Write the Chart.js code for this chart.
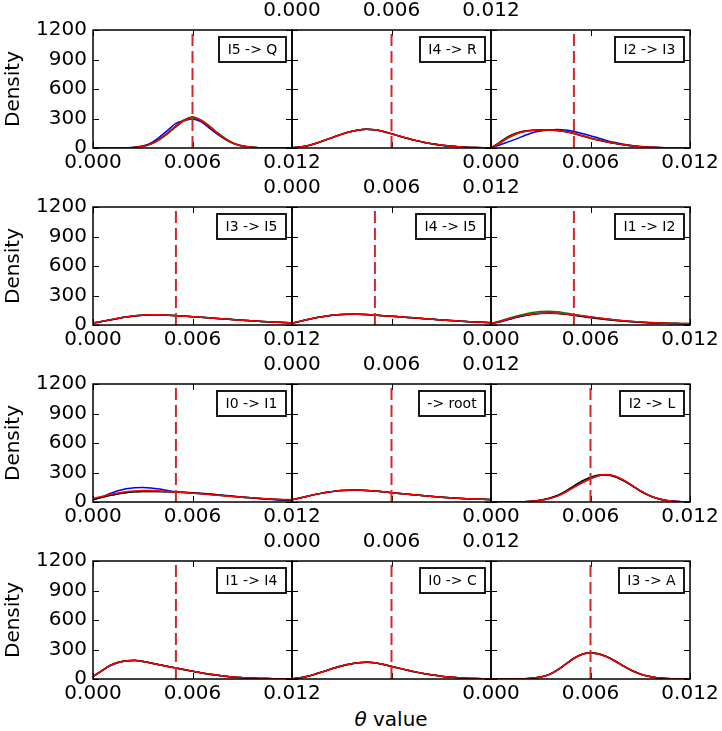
<!DOCTYPE html>
<html><head><meta charset="utf-8">
<script src="https://cdn.jsdelivr.net/npm/chart.js@4/dist/chart.umd.min.js"></script>
<style>
html,body{margin:0;padding:0;background:#fff;overflow:hidden;}
#wrap{position:relative;width:722px;height:731px;overflow:hidden;}
#wrap canvas{position:absolute;}
#xtitle{position:absolute;left:291px;width:200px;top:707px;line-height:22px;text-align:center;font:20px 'DejaVu Sans',sans-serif;color:#000;}
</style></head><body>
<div id="wrap"><div id="xtitle"><i>θ</i> value</div></div>
<script>
// ---- data ----
const xs = [0,0.0005,0.001,0.0015,0.002,0.0025,0.003,0.0035,0.004,0.0045,0.005,0.0055,0.006,0.0065,0.007,0.0075,0.008,0.0085,0.009,0.0095,0.01,0.0105,0.011,0.0115,0.012];
const xTicks = [0, 0.006, 0.012];
const yTicks = [0, 300, 600, 900, 1200];
const panelLabels = ['I5 -> Q','I4 -> R','I2 -> I3','I3 -> I5','I4 -> I5','I1 -> I2','I0 -> I1','-> root','I2 -> L','I1 -> I4','I0 -> C','I3 -> A'];
const trueTheta = [0.006,0.006,0.005,0.005,0.005,0.005,0.005,0.006,0.006,0.005,0.006,0.006];

const I5Q_blue  = [0,0,0,0,2,7,20,52,110,180,250,278,296,268,205,140,85,44,20,8,3,1,0,0,0];
const I5Q_green = [0,0,0,0,2,6,15,40,84,145,215,275,305,285,228,158,96,50,22,9,3,1,0,0,0];
const I5Q_black = [0,0,0,0,2,6,17,44,90,152,225,285,315,280,215,146,88,45,19,8,3,1,0,0,0];
const I5Q_red   = [0,0,0,0,2,6,16,42,88,150,222,282,312,282,220,150,90,46,20,8,3,1,0,0,0];

const I4R_blue  = [3,11,26,51,81,111,141,166,184,190,184,167,144,120,97,75,57,42,30,20,13,8,5,3,2];
const I4R_green = [3,10,24,49,79,110,140,165,184,191,186,169,146,121,97,75,56,41,29,20,13,8,5,3,2];
const I4R_black = [3,10,25,50,80,111,141,166,184,190,185,168,145,120,96,74,56,41,29,20,13,8,5,3,2];
const I4R_red   = [3,10,25,50,80,110,140,165,183,190,185,168,145,120,97,75,57,42,30,20,13,8,5,3,2];

const I2I3_blue  = [0,30,60,90,125,155,172,182,187,182,168,148,125,100,75,55,38,25,16,10,6,3,2,1,0];
const I2I3_green = [0,45,98,140,165,177,182,183,178,167,150,128,104,83,64,48,34,23,15,9,5,3,2,1,0];
const I2I3_black = [0,55,112,150,172,181,185,184,178,165,147,123,98,78,60,45,32,21,13,8,5,3,2,1,0];
const I2I3_red   = [0,50,105,145,168,178,183,183,177,165,148,125,100,80,62,47,33,22,14,9,5,3,2,1,0];

const I3I5_blue  = [19,34,51,67,81,92,100,104,104,101,96,91,85,79,72,66,60,54,48,43,38,33,29,25,22];
const I3I5_green = [20,35,52,68,82,93,100,103,104,100,95,90,85,79,73,66,60,54,48,43,38,33,29,26,23];
const I3I5_black = [20,35,51,67,81,92,99,103,103,100,95,90,85,79,73,67,61,55,49,43,38,33,29,25,22];
const I3I5_red   = [20,35,52,68,82,93,100,104,104,100,95,90,85,79,73,66,60,54,48,43,38,33,29,25,22];

const I4I5_blue  = [18,37,57,75,89,100,107,110,110,106,101,95,89,83,77,71,64,58,52,46,41,36,31,27,23];
const I4I5_green = [19,38,58,76,90,101,108,111,110,106,100,95,89,83,76,70,64,58,52,46,41,36,32,28,24];
const I4I5_black = [18,38,58,76,90,101,107,110,109,105,100,95,89,83,77,70,64,58,52,46,41,36,31,27,23];
const I4I5_red   = [18,38,58,76,90,101,108,111,110,106,101,95,89,83,77,70,64,58,52,46,41,36,31,27,23];

const I1I2_blue  = [14,30,52,75,95,110,119,122,120,113,103,92,82,72,62,52,43,35,29,24,20,17,15,13,12];
const I1I2_green = [16,38,64,90,110,128,138,140,135,122,107,93,80,68,58,49,41,35,30,26,23,20,18,16,15];
const I1I2_black = [15,34,56,78,96,110,118,120,117,109,98,86,74,63,53,45,38,32,27,23,20,17,15,13,12];
const I1I2_red   = [15,35,58,80,98,112,120,122,120,113,104,93,81,70,60,51,43,36,30,26,22,19,17,15,14];

const I0I1_blue  = [20,50,85,115,135,146,148,143,132,117,103,98,95,90,83,75,67,58,50,42,35,28,22,18,15];
const I0I1_green = [28,48,68,85,97,104,107,108,107,104,101,97,92,85,78,70,63,56,49,43,37,32,27,23,20];
const I0I1_black = [25,45,65,82,95,103,106,107,106,104,101,97,92,86,79,71,63,56,49,42,36,31,26,22,19];
const I0I1_red   = [35,55,75,92,105,113,117,117,113,108,102,96,90,83,76,69,62,55,49,43,38,33,29,26,24];

const root_blue  = [22,41,61,79,95,107,116,120,121,118,112,104,95,87,79,71,63,56,49,43,38,34,30,27,25];
const root_green = [23,42,62,80,96,108,117,121,121,117,111,103,95,87,79,71,63,56,50,44,39,34,30,27,25];
const root_black = [22,42,62,80,96,108,116,120,120,117,111,104,95,87,79,71,63,56,49,43,38,33,30,27,24];
const root_red   = [22,42,62,80,96,108,117,121,121,118,112,104,95,87,79,71,63,56,49,43,38,34,30,27,25];

const I2L_blue  = [0,0,0,1,3,8,18,35,62,102,152,198,238,268,277,260,220,168,114,70,38,18,8,3,1];
const I2L_green = [0,0,0,1,3,8,18,36,62,103,155,200,240,270,278,260,220,170,116,71,39,18,8,3,1];
const I2L_black = [0,0,0,1,3,8,19,38,66,110,165,215,252,275,275,255,215,165,112,68,37,17,8,3,1];
const I2L_red   = [0,0,0,1,3,8,18,35,60,100,150,195,235,270,280,262,222,170,115,70,38,18,8,3,1];

const I1I4_blue  = [24,78,132,166,184,188,179,163,146,129,112,96,80,64,50,38,28,20,14,9,6,4,3,2,1];
const I1I4_green = [26,82,137,170,186,189,178,161,144,127,111,95,79,63,49,37,27,19,13,9,6,4,3,2,1];
const I1I4_black = [25,79,133,167,185,190,180,163,145,127,111,95,79,63,49,37,27,19,13,9,6,4,3,2,1];
const I1I4_red   = [25,80,135,168,185,188,178,162,145,128,112,96,80,64,50,38,28,20,14,9,6,4,3,2,1];

const I0C_blue  = [2,12,31,56,83,111,134,152,165,171,165,149,129,108,88,70,54,40,29,20,13,8,5,3,2];
const I0C_green = [2,11,29,54,81,109,132,151,166,173,166,148,127,107,87,69,53,40,29,20,13,8,5,3,2];
const I0C_black = [2,12,30,55,82,110,133,152,165,171,164,147,128,108,88,70,54,40,29,20,13,8,5,3,2];
const I0C_red   = [2,12,30,55,82,110,133,152,166,172,165,148,128,108,88,70,54,40,29,20,13,8,5,3,2];

const I3A_blue  = [0,0,0,1,3,8,21,46,92,152,212,252,264,253,222,178,128,84,50,27,13,6,3,1,0];
const I3A_green = [0,0,0,1,3,8,20,44,88,148,208,250,262,255,228,184,134,88,52,28,13,6,3,1,0];
const I3A_black = [0,0,0,1,3,8,20,45,90,150,211,253,266,256,226,181,131,86,50,27,13,6,3,1,0];
const I3A_red   = [0,0,0,1,3,8,20,45,90,150,210,252,265,255,225,180,130,85,50,27,13,6,3,1,0];

const panelSeries = [
  [I5Q_blue, I5Q_green, I5Q_black, I5Q_red],
  [I4R_blue, I4R_green, I4R_black, I4R_red],
  [I2I3_blue, I2I3_green, I2I3_black, I2I3_red],
  [I3I5_blue, I3I5_green, I3I5_black, I3I5_red],
  [I4I5_blue, I4I5_green, I4I5_black, I4I5_red],
  [I1I2_blue, I1I2_green, I1I2_black, I1I2_red],
  [I0I1_blue, I0I1_green, I0I1_black, I0I1_red],
  [root_blue, root_green, root_black, root_red],
  [I2L_blue, I2L_green, I2L_black, I2L_red],
  [I1I4_blue, I1I4_green, I1I4_black, I1I4_red],
  [I0C_blue, I0C_green, I0C_black, I0C_red],
  [I3A_blue, I3A_green, I3A_black, I3A_red]
];
const seriesColors = ['#0000ff', '#008000', '#000000', '#ff0000'];

// ---- layout ----
const colLeft = [93, 292, 491];
const rowTop = [30, 207, 384, 561];
const PW = 199, PH = 118, M = 93, V = 30;
const FONT = "'DejaVu Sans', sans-serif";

const decor = {
  id: 'decor',
  beforeDatasetsDraw(chart) {
    const {ctx, chartArea: a, scales: {x, y}} = chart;
    ctx.save();
    ctx.strokeStyle = '#000';
    ctx.lineWidth = 1;
    const L = 6;
    ctx.beginPath();
    yTicks.forEach(v => {
      const py = Math.round(y.getPixelForValue(v)) + 0.5;
      ctx.moveTo(a.left, py); ctx.lineTo(a.left + L, py);
      ctx.moveTo(a.right, py); ctx.lineTo(a.right - L, py);
    });
    xTicks.forEach(v => {
      const px = Math.round(x.getPixelForValue(v)) + 0.5;
      ctx.moveTo(px, a.top); ctx.lineTo(px, a.top + L);
      ctx.moveTo(px, a.bottom); ctx.lineTo(px, a.bottom - L);
    });
    ctx.stroke();
    ctx.restore();
  },
  afterDatasetsDraw(chart) {
    const {ctx, chartArea: a} = chart;
    ctx.save();
    ctx.strokeStyle = '#000';
    ctx.lineWidth = 1.5;
    ctx.strokeRect(a.left, a.top, a.right - a.left, a.bottom - a.top);
    ctx.restore();
  },
  afterDraw(chart, args, opts) {
    const {ctx, chartArea: a} = chart;
    ctx.save();
    ctx.font = '14px ' + FONT;
    const tw = ctx.measureText(opts.label).width;
    const bw = Math.round(tw + 17), bh = 25;
    const bx = a.right - 6 - bw, by = a.top + 7;
    ctx.fillStyle = '#fff';
    ctx.fillRect(bx, by, bw, bh);
    ctx.strokeStyle = '#000';
    ctx.lineWidth = 1.8;
    ctx.strokeRect(bx, by, bw, bh);
    ctx.fillStyle = '#000';
    ctx.textAlign = 'center';
    ctx.textBaseline = 'middle';
    ctx.fillText(opts.label, bx + bw / 2, by + bh / 2 + 1);
    ctx.restore();
  }
};

const wrap = document.getElementById('wrap');
for (let i = 0; i < 12; i++) {
  const r = Math.floor(i / 3), c = i % 3;
  const cv = document.createElement('canvas');
  const W = M + PW + M, H = V + PH + V;
  cv.width = W; cv.height = H;
  cv.style.left = (colLeft[c] - M) + 'px';
  cv.style.top = (rowTop[r] - V) + 'px';
  cv.style.width = W + 'px'; cv.style.height = H + 'px';
  wrap.appendChild(cv);
  const topAxis = (c === 1);
  const datasets = [{
    data: [{x: trueTheta[i], y: 0}, {x: trueTheta[i], y: 1200}],
    borderColor: '#d02828', borderWidth: 2, borderDash: [12, 5],
    pointRadius: 0, tension: 0, order: 0
  }];
  const ser = panelSeries[i];
  for (let s = ser.length - 1; s >= 0; s--) {
    datasets.push({
      data: xs.map((xv, k) => ({x: xv, y: ser[s][k]})),
      borderColor: seriesColors[s], borderWidth: 1.5,
      pointRadius: 0, cubicInterpolationMode: 'monotone', order: ser.length - s
    });
  }
  new Chart(cv, {
    type: 'line',
    data: {datasets},
    options: {
      responsive: false, animation: false, devicePixelRatio: 1,
      layout: {padding: {left: 0, right: M, top: topAxis ? 0 : V, bottom: topAxis ? V : 0}},
      plugins: {legend: {display: false}, tooltip: {enabled: false}, decor: {label: panelLabels[i]}},
      scales: {
        x: {
          type: 'linear', position: topAxis ? 'top' : 'bottom', min: 0, max: 0.012,
          afterBuildTicks: s => { s.ticks = xTicks.map(v => ({value: v})); },
          afterFit: s => { s.height = V; },
          grid: {display: false, drawTicks: false}, border: {display: false},
          ticks: {autoSkip: false, maxRotation: 0, minRotation: 0, padding: topAxis ? 7 : 3,
                  color: '#000', font: {family: FONT, size: 20},
                  callback: v => Number(v).toFixed(3)}
        },
        y: {
          type: 'linear', position: 'left', min: 0, max: 1200,
          afterBuildTicks: s => { s.ticks = yTicks.map(v => ({value: v})); },
          afterFit: s => { s.width = M; },
          grid: {display: false, drawTicks: false}, border: {display: false},
          ticks: {display: c === 0, padding: 6, color: '#000', font: {family: FONT, size: 20},
                  callback: v => String(v)},
          title: {display: c === 0, text: 'Density', color: '#000', font: {family: FONT, size: 20},
                  padding: {top: 2, bottom: 0}}
        }
      }
    },
    plugins: [decor]
  });
}
</script>
</body></html>
